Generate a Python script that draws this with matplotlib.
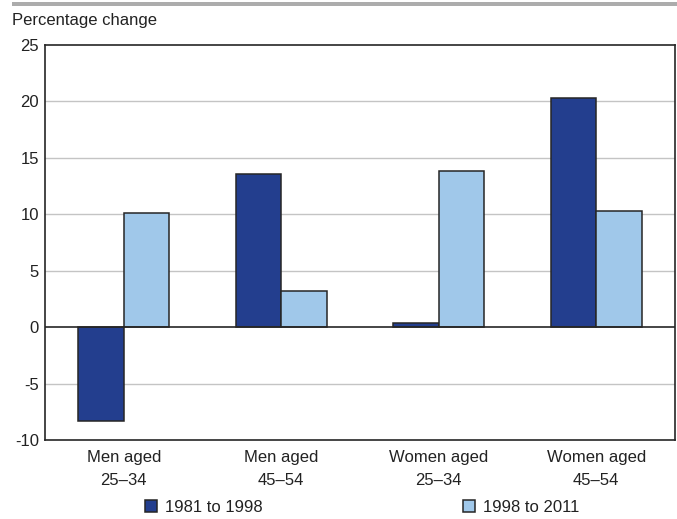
import numpy as np
import matplotlib
matplotlib.use("Agg")
import matplotlib.pyplot as plt
from matplotlib.patches import Rectangle

plt.rcParams['font.family'] = ['Liberation Sans', 'DejaVu Sans']
plt.rcParams['axes.unicode_minus'] = False

# data
groups = ['Men aged\n25\u201334', 'Men aged\n45\u201354',
          'Women aged\n25\u201334', 'Women aged\n45\u201354']
period_1 = [-8.3, 13.6, 0.4, 20.3]    # 1981 to 1998
period_2 = [10.1, 3.2, 13.8, 10.3]    # 1998 to 2011
series_names = ['1981 to 1998', '1998 to 2011']
y_ticks = [-10, -5, 0, 5, 10, 15, 20, 25]

dark_blue = '#233e8e'
light_blue = '#a0c8ea'
edge = '#262626'
txt = '#222222'
fs = 12

W, H = 677, 519
fig = plt.figure(figsize=(W / 100, H / 100), dpi=100)
ax = fig.add_axes([45 / W, 1 - 440 / H, 630 / W, 395 / H])

x = np.arange(len(groups))
bw = 0.29
b1 = ax.bar(x - bw / 2, period_1, bw, color=dark_blue, edgecolor=edge, linewidth=1.1, zorder=3)
b2 = ax.bar(x + bw / 2, period_2, bw, color=light_blue, edgecolor=edge, linewidth=1.1, zorder=3)

ax.set_xlim(-0.5, 3.5)
ax.set_ylim(-10, 25)
ax.set_yticks(y_ticks)
ax.set_yticklabels([str(t) for t in y_ticks])
ax.set_xticks(x)
ax.set_xticklabels(groups, linespacing=1.65)

for t in y_ticks:
    if t in (-10, 25):
        continue
    if t == 0:
        ax.axhline(0, color=edge, lw=1.2, zorder=4)
    else:
        ax.axhline(t, color='#c4c4c4', lw=1.0, zorder=1)

for s in ax.spines.values():
    s.set_color(edge)
    s.set_linewidth(1.2)
ax.tick_params(length=0, labelsize=fs, colors=txt)
ax.tick_params(axis='y', pad=4.5)
ax.tick_params(axis='x', pad=7)

fig.text(12 / W, 1 - 20 / H, 'Percentage change', fontsize=fs, color=txt,
         ha='left', va='center')

# grey band along the top edge
fig.patches.append(Rectangle((12 / W, 1 - 6 / H), 1, 4 / H, transform=fig.transFigure,
                             color='#acacac', lw=0))

fig.legend([b1, b2], series_names, loc='center left', bbox_to_anchor=(145 / W, 1 - 507 / H),
           ncol=2, frameon=False, fontsize=fs, handlelength=0.72, handleheight=0.72,
           handletextpad=0.5, columnspacing=12.0, borderpad=0, borderaxespad=0,
           labelcolor=txt)

fig.savefig('out.png', dpi=100)
